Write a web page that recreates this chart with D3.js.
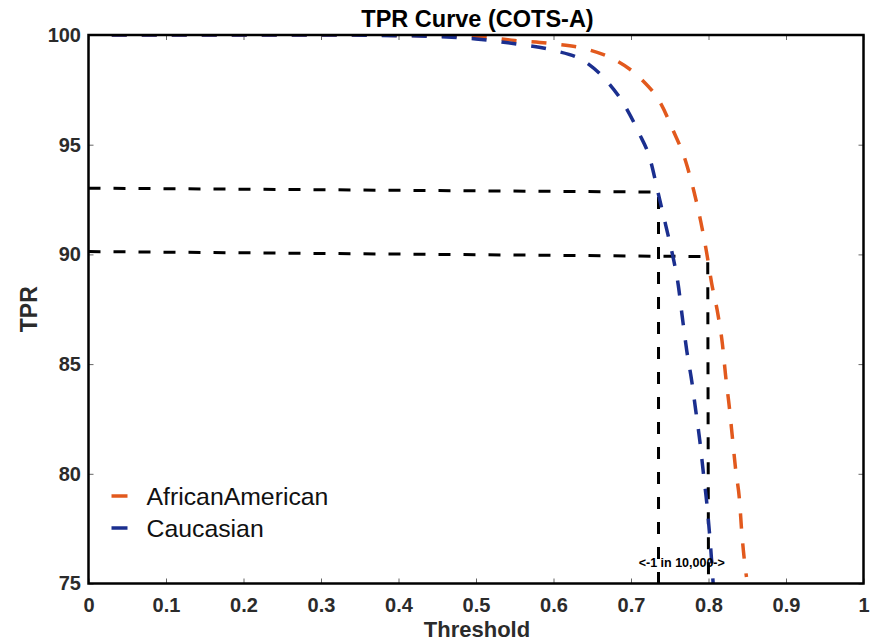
<!DOCTYPE html>
<html>
<head>
<meta charset="utf-8">
<script src="https://cdn.jsdelivr.net/npm/d3@7"></script>
<style>
  body { margin: 0; background: #fff; }
  svg { font-family: "Liberation Sans", Arial, sans-serif; }
  .tick text { font-size: 20px; font-weight: bold; fill: #2b2b2b; }
  .tick line { stroke: #666; stroke-width: 1; }
</style>
</head>
<body>
<svg id="chart"></svg>
<script>
// series
const aaThreshold = [0.03, 0.1, 0.2, 0.3, 0.4, 0.45, 0.5, 0.55, 0.6, 0.643, 0.68, 0.713, 0.738, 0.755, 0.77, 0.781, 0.79, 0.7975, 0.804, 0.812, 0.818, 0.822, 0.827, 0.831, 0.835, 0.84, 0.843, 0.847, 0.849];
const aaTPR       = [100, 100, 100, 100, 99.98, 99.96, 99.92, 99.75, 99.6, 99.35, 98.85, 98.0, 96.9, 95.6, 94.3, 92.9, 91.5, 90.1, 88.7, 87.3, 85.9, 84.5, 83.0, 81.6, 80.2, 78.8, 77.3, 75.85, 75.3];
const cauThreshold = [0.03, 0.1, 0.2, 0.3, 0.4, 0.45, 0.5, 0.55, 0.6, 0.64, 0.67, 0.69, 0.71, 0.725, 0.735, 0.745, 0.7535, 0.761, 0.766, 0.772, 0.7785, 0.7835, 0.789, 0.7935, 0.798, 0.8015, 0.8045, 0.806];
const cauTPR       = [100, 100, 100, 100, 99.97, 99.93, 99.82, 99.6, 99.3, 98.8, 97.85, 96.9, 95.55, 94.3, 92.8, 91.3, 90.0, 88.6, 87.2, 85.6, 84.2, 82.9, 81.45, 80.0, 78.6, 77.2, 75.8, 75.0];

// operating-point guide lines (threshold, TPR)
const guideUpper = [[0, 93.02], [0.7355, 92.84], [0.7355, 75]];
const guideLower = [[0, 90.13], [0.799, 89.9], [0.8, 75]];

const xTicks = [0, 0.1, 0.2, 0.3, 0.4, 0.5, 0.6, 0.7, 0.8, 0.9, 1];
const yTicks = [75, 80, 85, 90, 95, 100];

const seriesNames = ["AfricanAmerican", "Caucasian"];
const seriesColors = ["#e2591d", "#1b2f8f"];

const W = 881, H = 643;
const margin = {top: 35, right: 17.5, bottom: 59.5, left: 88.5};
const width = W - margin.left - margin.right;
const height = H - margin.top - margin.bottom;

const svg = d3.select("#chart").attr("width", W).attr("height", H);
const chart = svg.append("g").attr("transform", `translate(${margin.left},${margin.top})`);

const x = d3.scaleLinear().domain([0, 1]).range([0, width]);
const y = d3.scaleLinear().domain([75, 100]).range([height, 0]);

const fmtX = d => d === 0 || d === 1 ? String(d) : d3.format(".1f")(d);

// axes, ticks pointing inward
chart.append("g").attr("transform", `translate(0,${height})`)
    .call(d3.axisBottom(x).tickValues(xTicks).tickFormat(fmtX).tickSize(-5).tickPadding(14.5))
    .call(g => g.select(".domain").remove());
chart.append("g")
    .call(d3.axisLeft(y).tickValues(yTicks).tickSize(-5).tickPadding(7.5))
    .call(g => g.select(".domain").remove());
chart.append("g")
    .call(d3.axisTop(x).tickValues(xTicks).tickFormat("").tickSize(-5))
    .call(g => g.select(".domain").remove());
chart.append("g").attr("transform", `translate(${width},0)`)
    .call(d3.axisRight(y).tickValues(yTicks).tickFormat("").tickSize(-5))
    .call(g => g.select(".domain").remove());

svg.append("clipPath").attr("id", "plotClip")
    .append("rect").attr("width", width).attr("height", height);

const plot = chart.append("g").attr("clip-path", "url(#plotClip)");

const guideLine = d3.line().x(d => x(d[0])).y(d => y(d[1]));
[guideUpper, guideLower].forEach(g => {
    plot.append("path")
        .attr("d", guideLine(g))
        .attr("fill", "none")
        .attr("stroke", "#000")
        .attr("stroke-width", 3)
        .attr("stroke-dasharray", "12,13");
});

const curve = d3.line()
    .x(d => x(d[0]))
    .y(d => y(d[1]))
    .curve(d3.curveMonotoneX);

const series = [
    d3.zip(aaThreshold, aaTPR),
    d3.zip(cauThreshold, cauTPR)
];

series.forEach((s, i) => {
    plot.append("path")
        .attr("d", curve(s))
        .attr("fill", "none")
        .attr("stroke", seriesColors[i])
        .attr("stroke-width", 3.5)
        .attr("stroke-dasharray", "15,15");
});

// annotation
chart.append("text")
    .attr("x", x(0.7655))
    .attr("y", height - 16.5)
    .attr("text-anchor", "middle")
    .style("font-size", "12.5px")
    .style("font-weight", "bold")
    .text("<-1 in 10,000->");

// frame
chart.append("rect")
    .attr("width", width).attr("height", height)
    .attr("fill", "none")
    .attr("stroke", "#000")
    .attr("stroke-width", 2.5);

// legend
const legend = chart.append("g").attr("transform", `translate(23,461)`);
seriesNames.forEach((name, i) => {
    const row = legend.append("g").attr("transform", `translate(0,${i * 32})`);
    row.append("line")
        .attr("x1", 0).attr("x2", 16)
        .attr("stroke", seriesColors[i])
        .attr("stroke-width", 3.5);
    row.append("text")
        .attr("x", 35)
        .attr("y", 9)
        .style("font-size", "24.8px")
        .attr("fill", "#111")
        .text(name);
});

// titles
svg.append("text")
    .attr("x", margin.left + width / 2 + 1.5)
    .attr("y", 27)
    .attr("text-anchor", "middle")
    .style("font-size", "23.5px")
    .style("font-weight", "bold")
    .text("TPR Curve (COTS-A)");

svg.append("text")
    .attr("x", margin.left + width / 2 + 1)
    .attr("y", 637)
    .attr("text-anchor", "middle")
    .style("font-size", "22px")
    .style("font-weight", "bold")
    .attr("fill", "#2b2b2b")
    .text("Threshold");

svg.append("text")
    .attr("transform", `translate(37,${margin.top + height / 2}) rotate(-90)`)
    .attr("text-anchor", "middle")
    .style("font-size", "23px")
    .style("font-weight", "bold")
    .attr("fill", "#2b2b2b")
    .text("TPR");
</script>
</body>
</html>
